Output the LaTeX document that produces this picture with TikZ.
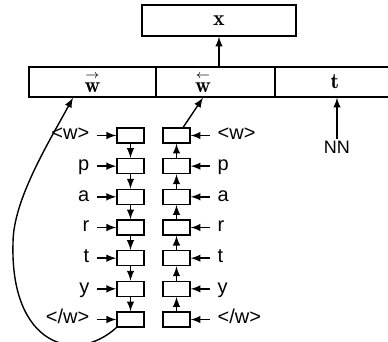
\documentclass[tikz,border=0pt]{standalone}
\usepackage{amsmath}
\usepackage{fontspec}
\newfontfamily\lblfont{Liberation Sans}

\begin{document}
\begin{tikzpicture}[x=0.5pt,y=-0.5pt,>=latex,line width=0.7pt,
  cell/.style={draw, inner sep=0pt, minimum height=15pt, font=\fontsize{10.95}{13}\selectfont},
  lstm/.style={draw, inner sep=0pt, minimum width=13.5pt, minimum height=7.5pt},
  chr/.style={font=\lblfont, inner sep=3.5pt, text height=1.5ex, text depth=.25ex}]
\useasboundingbox (0,0) rectangle (388,342);
% word vector and its parts
\node[cell, minimum width=77pt, minimum height=15.5pt] (x) at (219,20.5) {$\mathbf{x}$};
\node[cell, minimum width=63.5pt] (fw) at (92.5,82) {$\overset{\scriptscriptstyle\rightarrow}{\mathbf{w}}$};
\node[cell, minimum width=59.5pt] (bw) at (215.5,82) {};
\node[cell, draw=none] (bwlbl) at (203,82) {$\overset{\scriptscriptstyle\leftarrow}{\mathbf{w}}$};
\node[cell, minimum width=60pt] (t) at (335,82) {$\mathbf{t}$};
\node[chr, font=\lblfont\fontsize{9}{11}\selectfont] (nn) at (337,148) {NN};
\draw[->] (x.south |- bw.north) -- (x.south);
\draw[->] ([yshift=-3pt]nn.north) -- (nn |- t.south);
% character lstms
\foreach \c [count=\i from 0] in {<w>,p,a,r,t,y,</w>} {
  \node[lstm] (f\i) at (130.5,{135.5+30.67*\i}) {};
  \node[lstm] (b\i) at (176.5,{135.5+30.67*\i}) {};
  \node[chr, anchor=mid east] (l\i) at (97,{135.5+30.67*\i}) {\c};
  \node[chr, anchor=mid west] (r\i) at (210,{135.5+30.67*\i}) {\c};
  \draw[->] (l\i.mid east) -- (f\i.west);
  \draw[->] (r\i.mid west) -- (b\i.east);
}
\foreach \i [count=\j from 0] in {1,...,6} {
  \draw[->] (f\j) -- (f\i);
  \draw[->] (b\i) -- (b\j);
}
\coordinate (bend) at (13,243);
\draw[->] (f6.south west) .. controls (75,365) and (10,345) .. (bend)
  .. controls (13,200) and (49,142) .. ([xshift=-9.75pt]fw.south);
\draw[->] ([xshift=-3.75pt]b0.north east) -- (bwlbl.south |- bw.south);
\end{tikzpicture}
\end{document}
